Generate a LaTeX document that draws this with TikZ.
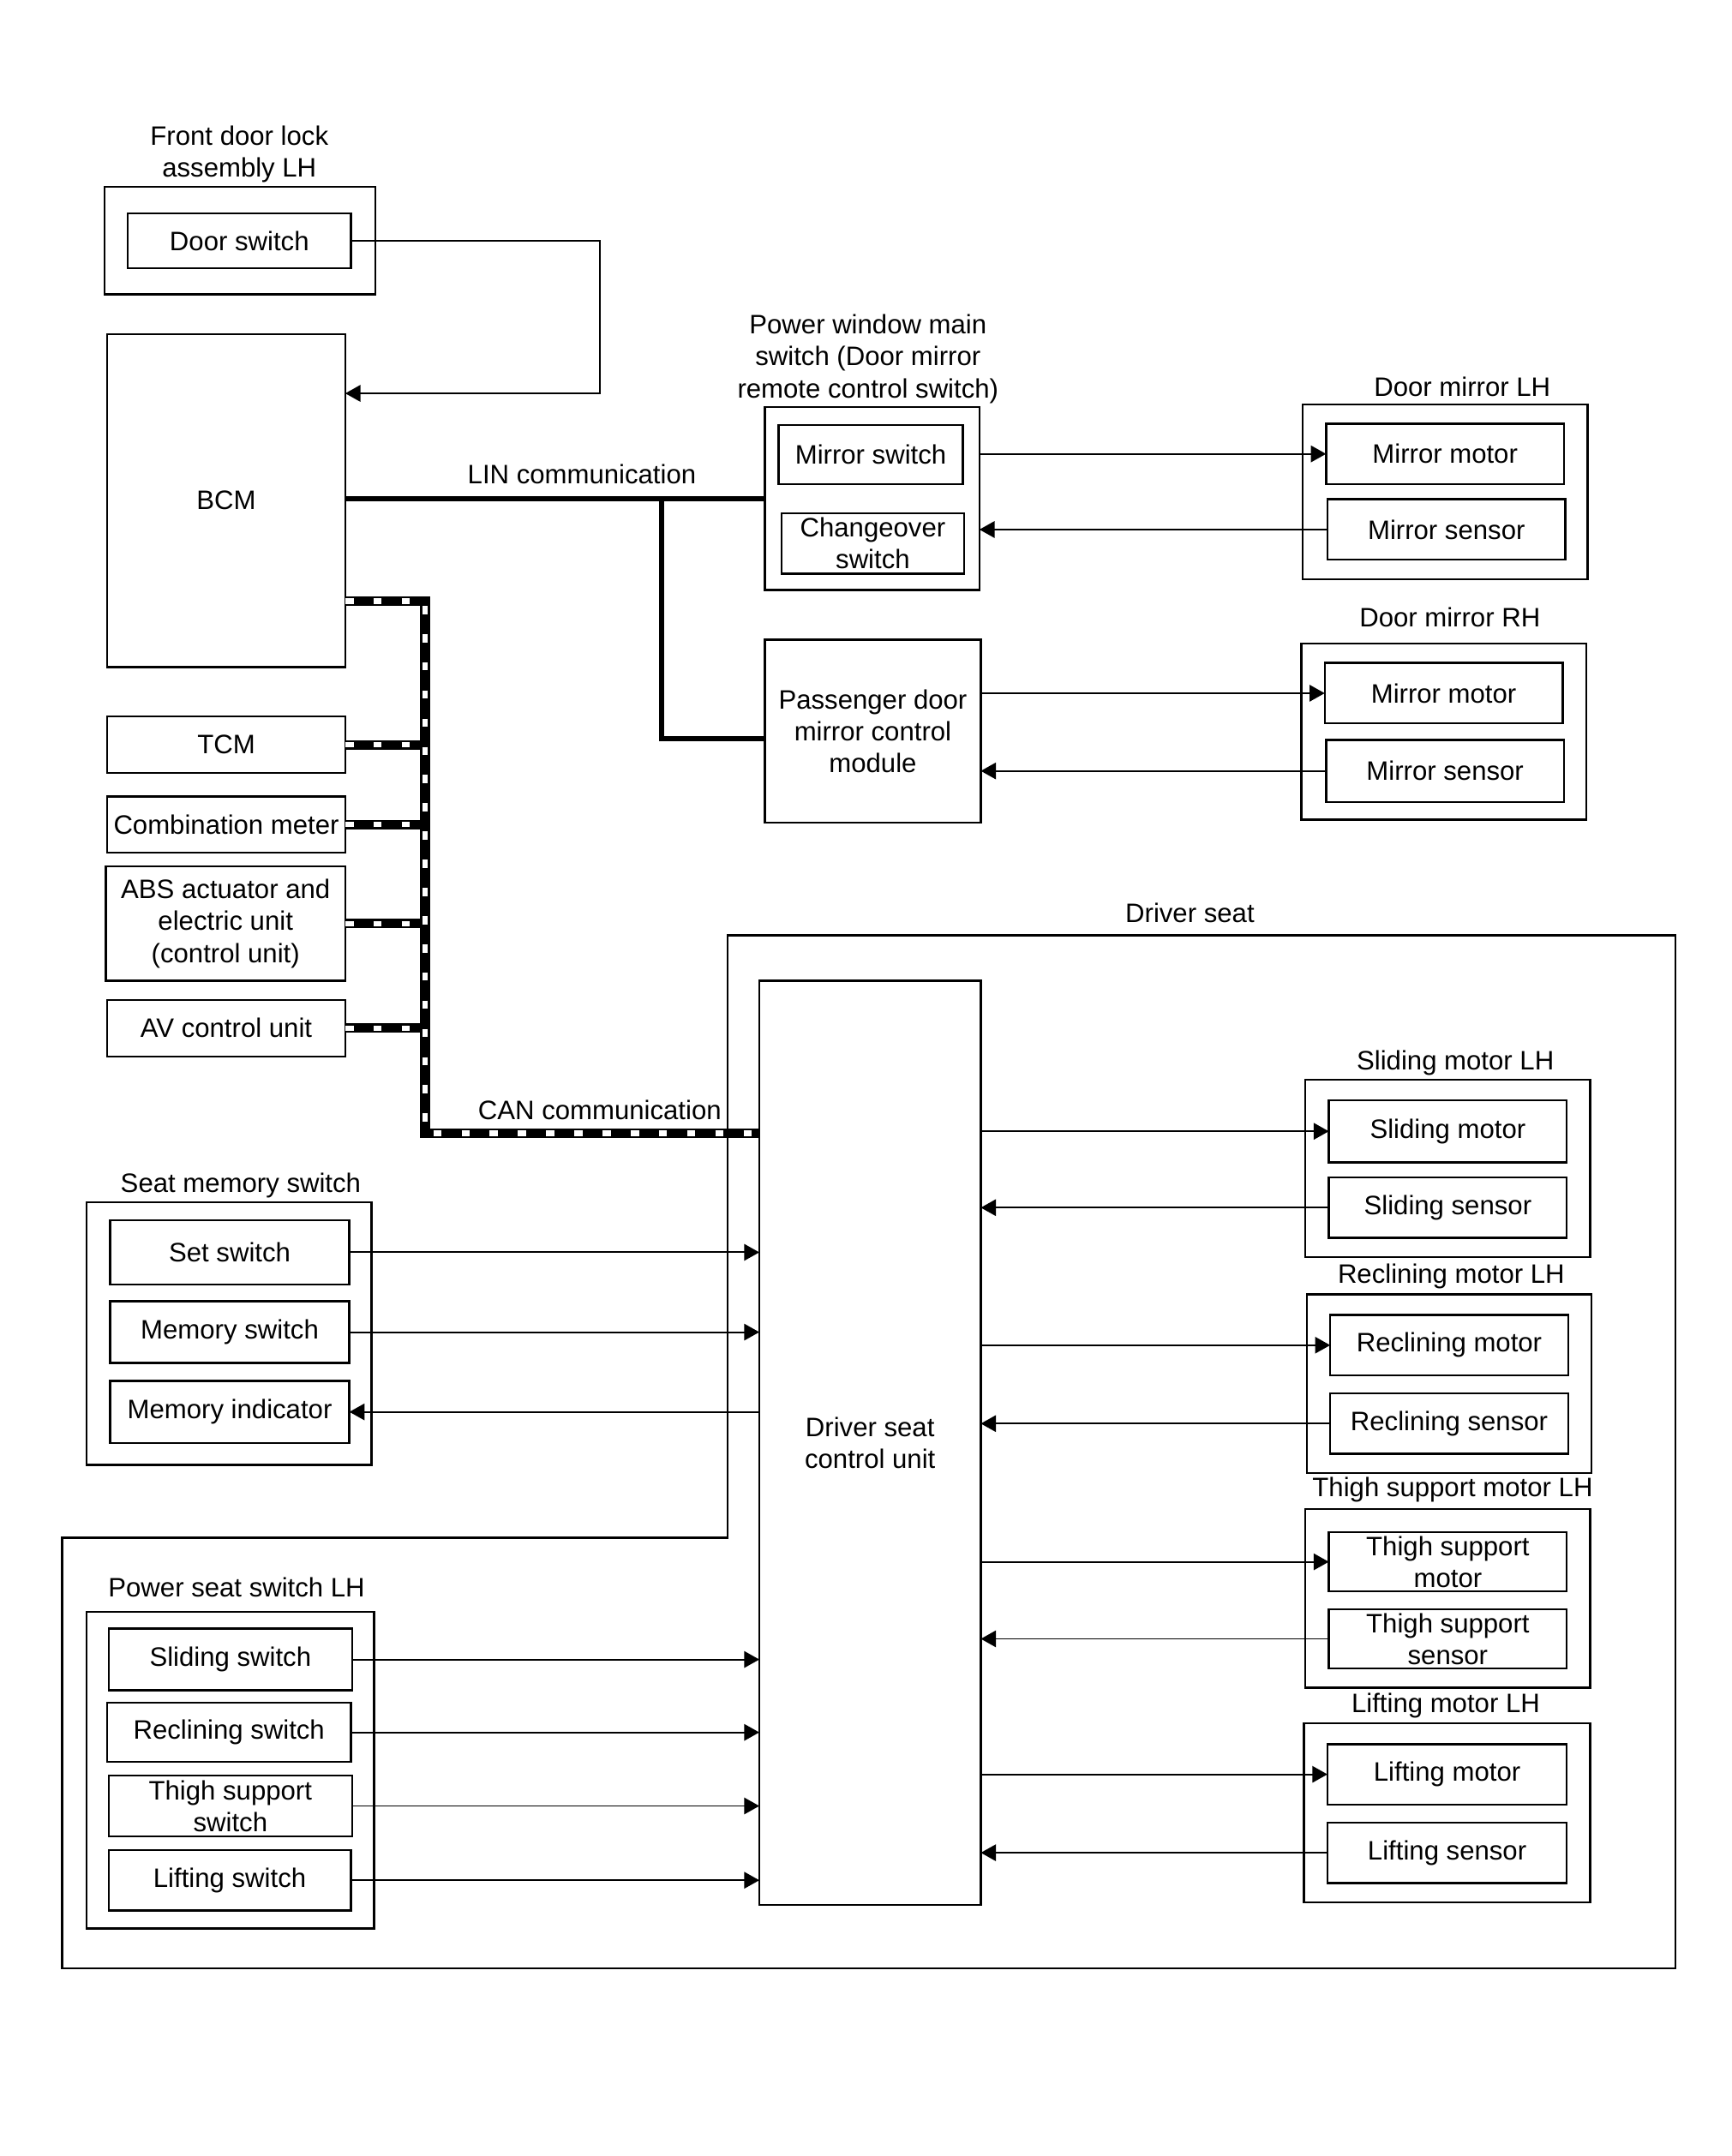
\documentclass[tikz,border=0pt]{standalone}
\usepackage{fontspec}
\setmainfont{Liberation Sans}
\usetikzlibrary{arrows.meta}
\newcommand{\mybox}[6]{%
  \pgfmathsetmacro\myCX{(#2+#4)/2}%
  \pgfmathsetmacro\myCY{(#3+#5)/2}%
  \pgfmathsetmacro\myWW{(#4-#2)*0.5}%
  \pgfmathsetmacro\myHH{(#5-#3)*0.5}%
  \node[box, minimum width=\myWW pt, minimum height=\myHH pt] (#1) at (\myCX,\myCY) {#6};%
}
\tikzset{
  box/.style={draw, line width=0.75pt, inner sep=0pt, outer sep=0pt, align=center},
  lbl/.style={inner sep=0pt, align=center},
  arr/.style={-{Triangle[length=5.5pt,width=6pt]}, line width=0.6pt},
  linbus/.style={line width=2pt},
  canb/.style={line width=3.5pt, line join=miter},
  canw/.style={white, line width=2pt, dash pattern=on 3pt off 7.25pt},
  bound/.style={line width=0.8pt}
}
\begin{document}
\begin{tikzpicture}[x=0.5pt, y=-0.5pt, font=\fontsize{9.7pt}{11.6pt}\selectfont]
\useasboundingbox (0,0) rectangle (1258.5,1567.5);
\fill[white] (0,0) rectangle (1258.5,1567.5);

% ---------- Front door lock ----------
\node[lbl] (fdl) at (174,112) {Front door lock\\assembly LH};
\mybox{fdlbox}{76}{136}{273}{214}{}
\mybox{ds}{93}{155}{255}{195}{Door switch}

% ---------- BCM and CAN units ----------
\mybox{bcm}{78}{243}{251}{485}{BCM}
\mybox{tcm}{78}{521}{251}{562}{TCM}
\mybox{cm}{78}{579}{251}{620}{Combination meter}
\mybox{abs}{77}{630}{251}{713}{ABS actuator and\\electric unit\\(control unit)}
\mybox{av}{78}{727}{251}{768}{AV control unit}

% ---------- Power window main switch ----------
\node[lbl] (pwl) at (631,261) {Power window main\\switch (Door mirror\\remote control switch)};
\mybox{pw}{556}{296}{712}{429}{}
\mybox{msw}{566}{309}{700}{352}{Mirror switch}
\mybox{cosw}{568}{373}{701}{417}{Changeover\\switch}

\mybox{pdm}{556}{465}{713}{598}{Passenger door\\mirror control\\module}

% ---------- Door mirrors ----------
\node[lbl] (dmll) at (1063,281) {Door mirror LH};
\mybox{dml}{947}{294}{1154}{421}{}
\mybox{mmL}{964}{308}{1137}{352}{Mirror motor}
\mybox{msL}{965}{363}{1138}{407}{Mirror sensor}

\node[lbl] (dmrl) at (1054,449) {Door mirror RH};
\mybox{dmr}{946}{468}{1153}{596}{}
\mybox{mmR}{963}{482}{1136}{526}{Mirror motor}
\mybox{msR}{964}{538}{1137}{583}{Mirror sensor}

% ---------- Driver seat ----------
\node[lbl] (dsl) at (865,664) {Driver seat};
\draw[bound] (529,680) -- (1218,680) -- (1218,1431) -- (45,1431) -- (45,1118) -- (529,1118) -- cycle;
\mybox{dscu}{552}{713}{713}{1385}{Driver seat\\control unit}

% Seat memory switch
\node[lbl] (smsl) at (175,862) {Seat memory switch};
\mybox{sms}{63}{874}{270}{1065}{}
\mybox{setsw}{80}{887}{254}{934}{Set switch}
\mybox{memsw}{80}{946}{254}{991}{Memory switch}
\mybox{memind}{80}{1004}{254}{1049}{Memory indicator}

% Power seat switch LH
\node[lbl] (pssl) at (172,1154) {Power seat switch LH};
\mybox{pss}{63}{1172}{272}{1402}{}
\mybox{slsw}{79}{1184}{256}{1229}{Sliding switch}
\mybox{resw}{78}{1238}{255}{1281}{Reclining switch}
\mybox{thsw}{79}{1291}{256}{1335}{Thigh support\\switch}
\mybox{lisw}{79}{1345}{255}{1389}{Lifting switch}

% Motors
\node[lbl] (slml) at (1058,773) {Sliding motor LH};
\mybox{slmb}{949}{785}{1156}{914}{}
\mybox{slm}{966}{800}{1139}{845}{Sliding motor}
\mybox{sls}{966}{856}{1139}{900}{Sliding sensor}

\node[lbl] (reml) at (1055,928) {Reclining motor LH};
\mybox{remb}{950}{941}{1157}{1071}{}
\mybox{rem}{967}{956}{1140}{1000}{Reclining motor}
\mybox{res}{967}{1013}{1140}{1057}{Reclining sensor}

\node[lbl] (thml) at (1056,1083) {Thigh support motor LH};
\mybox{thmb}{949}{1097}{1156}{1227}{}
\mybox{thm}{966}{1114}{1139}{1157}{Thigh support\\motor}
\mybox{ths}{966}{1170}{1139}{1213}{Thigh support\\sensor}

\node[lbl] (liml) at (1051,1240) {Lifting motor LH};
\mybox{limb}{948}{1253}{1156}{1383}{}
\mybox{lim}{965}{1268}{1139}{1312}{Lifting motor}
\mybox{lis}{965}{1325}{1139}{1369}{Lifting sensor}

% ---------- Connectors ----------
\draw[arr] (ds.east) -| (436,286) -- (bcm.east |- 0,286);

% LIN
\node[lbl] (linl) at (423,345) {LIN communication};
\coordinate (linj) at (481,363);
\draw[linbus] (bcm.east |- pw.west) -- (pw.west);
\draw[linbus, line join=miter] (linj) |- (pdm.west |- 0,537);

% mirrors
\draw[arr] (pw.east |- mmL.west) -- (mmL.west);
\draw[arr] (msL.west) -- (pw.east |- msL.west);
\draw[arr] (pdm.east |- mmR.west) -- (mmR.west);
\draw[arr] (msR.west) -- (pdm.east |- msR.west);

% CAN
\node[lbl] (canl) at (436,807) {CAN communication};
\coordinate (cantop) at (309,437);
\coordinate (canbot) at (309,824);
\foreach \s in {canb,canw}{
  \draw[\s] (bcm.east |- cantop) -- (cantop) -- (canbot) -- (dscu.west |- canbot);
  \draw[\s] (tcm.east) -- (tcm.east -| cantop);
  \draw[\s] (cm.east) -- (cm.east -| cantop);
  \draw[\s] (abs.east) -- (abs.east -| cantop);
  \draw[\s] (av.east) -- (av.east -| cantop);
}

% seat memory
\draw[arr] (setsw.east) -- (dscu.west |- setsw.east);
\draw[arr] (memsw.east) -- (dscu.west |- memsw.east);
\draw[arr] (dscu.west |- memind.east) -- (memind.east);

% power seat switch
\draw[arr] (slsw.east) -- (dscu.west |- slsw.east);
\draw[arr] (resw.east) -- (dscu.west |- resw.east);
\draw[arr] (thsw.east) -- (dscu.west |- thsw.east);
\draw[arr] (lisw.east) -- (dscu.west |- lisw.east);

% motors
\draw[arr] (dscu.east |- slm.west) -- (slm.west);
\draw[arr] (sls.west) -- (dscu.east |- sls.west);
\draw[arr] (dscu.east |- rem.west) -- (rem.west);
\draw[arr] (res.west) -- (dscu.east |- res.west);
\draw[arr] (dscu.east |- thm.west) -- (thm.west);
\draw[arr] (ths.west) -- (dscu.east |- ths.west);
\draw[arr] (dscu.east |- lim.west) -- (lim.west);
\draw[arr] (lis.west) -- (dscu.east |- lis.west);
\end{tikzpicture}
\end{document}
